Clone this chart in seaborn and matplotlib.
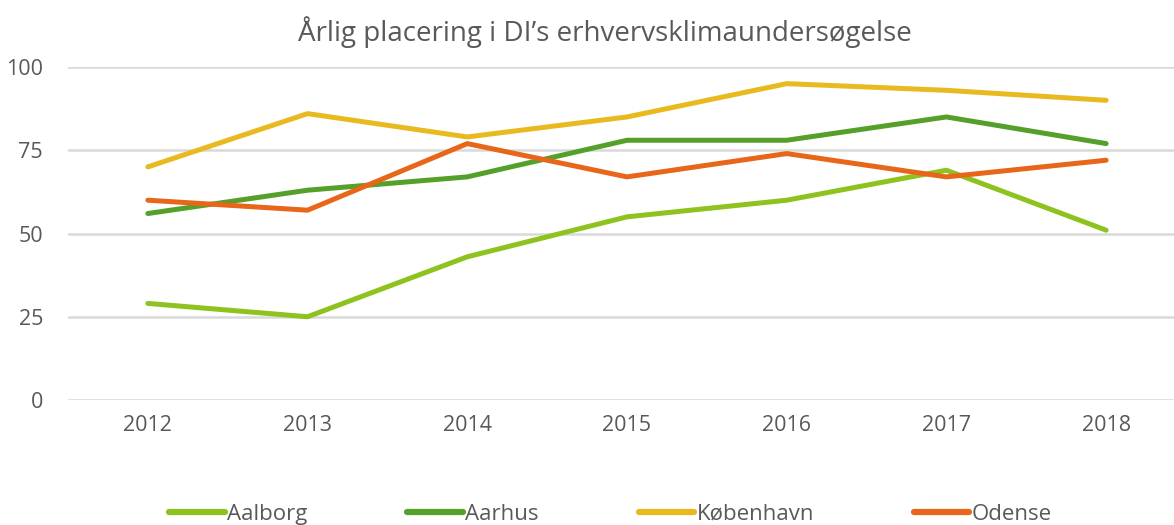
import matplotlib
matplotlib.use("Agg")
import matplotlib.pyplot as plt
import seaborn as sns
import pandas as pd

years = ["2012", "2013", "2014", "2015", "2016", "2017", "2018"]
aalborg = [29, 25, 43, 55, 60, 69, 51]
aarhus = [56, 63, 67, 78, 78, 85, 77]
koebenhavn = [70, 86, 79, 85, 95, 93, 90]
odense = [60, 57, 77, 67, 74, 67, 72]
cities = ["Aalborg", "Aarhus", "København", "Odense"]
colors = ["#8DC21F", "#55A02A", "#E8BA20", "#E8661A"]

sns.set_theme(style="white")
plt.rcParams["font.family"] = ["Open Sans", "DejaVu Sans"]
text_color = "#595959"

rows = []
for city, vals in zip(cities, [aalborg, aarhus, koebenhavn, odense]):
    for i, (yr, v) in enumerate(zip(years, vals)):
        rows.append({"idx": i, "year": yr, "city": city, "value": v})
df = pd.DataFrame(rows)

fig = plt.figure(figsize=(11.74, 5.25), dpi=100)
ax = fig.add_axes([68 / 1174, 125 / 525, 1106 / 1174, 333 / 525])

sns.lineplot(data=df, x="idx", y="value", hue="city", palette=colors,
             linewidth=3.6, ax=ax, legend=False, solid_capstyle="round")

ax.set_xlim(-0.5, 6.425)
ax.set_ylim(0, 100)
ax.set_yticks([0, 25, 50, 75, 100])
ax.set_xticks(range(len(years)))
ax.set_xticklabels(years)
ax.yaxis.grid(True, color="#d9d9d9", linewidth=1.8)
ax.set_axisbelow(True)
for s in ax.spines.values():
    s.set_visible(False)
ax.tick_params(axis="both", colors=text_color, labelsize=15.5, length=0)
ax.tick_params(axis="x", pad=11)
ax.tick_params(axis="y", pad=18)
ax.set_xlabel("")
ax.set_ylabel("")

fig.text(0.515, 0.938, "Årlig placering i DI’s erhvervsklimaundersøgelse",
         ha="center", va="center", fontsize=20, color=text_color)

handles = [plt.Line2D([0], [0], color=c, linewidth=4.5, solid_capstyle="round")
           for c in colors]
leg = fig.legend(handles, cities, loc="center", bbox_to_anchor=(0.52, 0.02),
                 ncol=4, frameon=False, fontsize=16, handlelength=2.5,
                 handletextpad=0.1, columnspacing=4.5)
for t in leg.get_texts():
    t.set_color(text_color)

fig.savefig("out.png", dpi=100)
